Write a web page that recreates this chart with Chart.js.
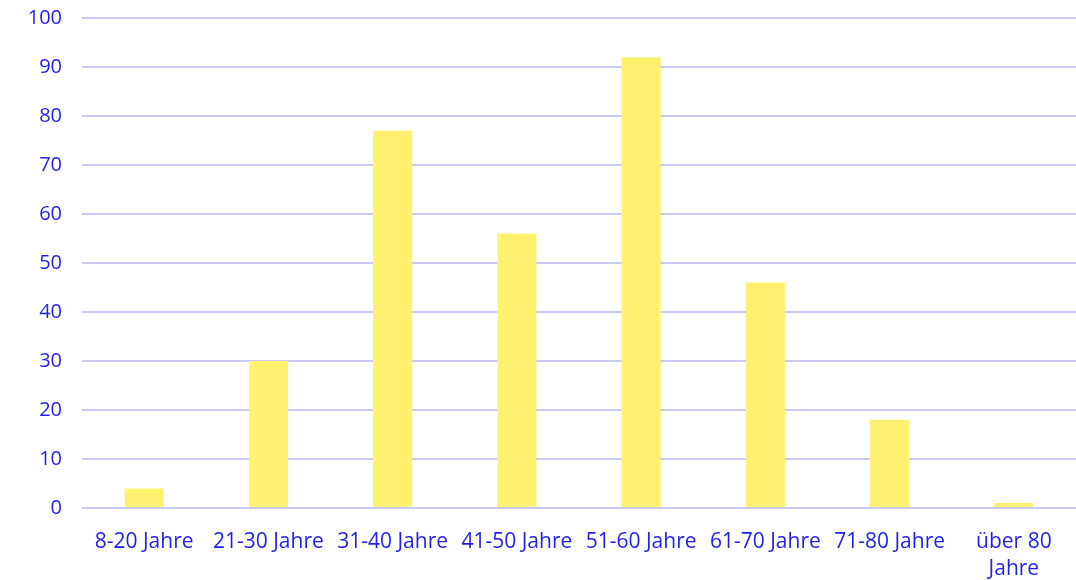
<!DOCTYPE html>
<html>
<head>
<meta charset="utf-8">
<script src="https://cdn.jsdelivr.net/npm/chart.js@4/dist/chart.umd.min.js"></script>
<style>
  html, body { margin: 0; padding: 0; background: #fff; }
  #wrap { width: 1076px; height: 580px; }
</style>
</head>
<body>
<div id="wrap"><canvas id="ageChart" width="1076" height="580"></canvas></div>
<script>
var categories = ['8-20 Jahre', '21-30 Jahre', '31-40 Jahre', '41-50 Jahre', '51-60 Jahre', '61-70 Jahre', '71-80 Jahre', ['über 80', 'Jahre']];
var counts = [4, 30, 77, 56, 92, 46, 18, 1];

var blue = '#1f1fee';
var gridColor = '#c9c9f5';

var ctx = document.getElementById('ageChart').getContext('2d');
var ageChart = new Chart(ctx, {
  type: 'bar',
  data: {
    labels: categories,
    datasets: [{
      data: counts,
      backgroundColor: '#fff170',
      categoryPercentage: 1,
      barPercentage: 0.315
    }]
  },
  options: {
    responsive: false,
    animation: false,
    layout: {
      padding: { top: 18, right: 0, left: 0, bottom: 0 }
    },
    plugins: {
      legend: { display: false },
      tooltip: { enabled: false }
    },
    scales: {
      x: {
        grid: { display: false, drawTicks: false },
        border: { display: false },
        afterFit: function (scale) { scale.height = 72; },
        ticks: {
          color: blue,
          padding: 20,
          maxRotation: 0,
          autoSkip: false,
          font: { family: 'Open Sans', size: 21, lineHeight: 1.3 }
        }
      },
      y: {
        min: 0,
        max: 100,
        grid: { color: gridColor, lineWidth: 2, drawTicks: false },
        border: { display: false },
        afterFit: function (scale) {
          scale.width = 82;
          scale.paddingTop = 0;
          scale.paddingBottom = 0;
        },
        ticks: {
          stepSize: 10,
          color: blue,
          padding: 20,
          font: { family: 'Open Sans', size: 20 }
        }
      }
    }
  }
});
</script>
</body>
</html>
